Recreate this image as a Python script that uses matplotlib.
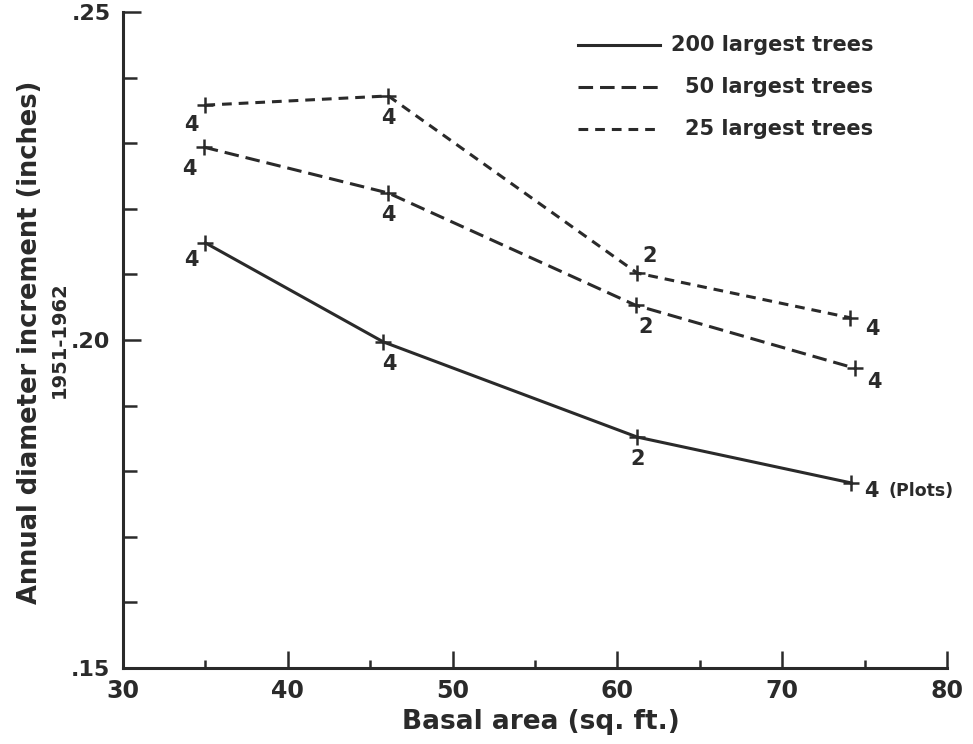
#!/usr/bin/env python3
"""Diameter increment vs basal area"""
import matplotlib
matplotlib.use('Agg')
import matplotlib.pyplot as plt
from matplotlib.ticker import MultipleLocator, FixedLocator
from matplotlib.lines import Line2D

plt.rcParams['font.family'] = ['DejaVu Sans']
plt.rcParams['font.weight'] = 'bold'
plt.rcParams['lines.scale_dashes'] = False

INK = '#2a2a2a'

# data
series_names = ['200 largest trees', '50 largest trees', '25 largest trees']
x_200 = [35.0, 45.8, 61.2, 74.2]
y_200 = [0.2148, 0.1997, 0.1852, 0.1782]
x_50 = [34.9, 46.1, 61.1, 74.4]
y_50 = [0.2294, 0.2224, 0.2053, 0.1957]
x_25 = [35.0, 46.1, 61.2, 74.1]
y_25 = [0.2358, 0.2372, 0.2102, 0.2034]
plots_200 = ['4', '4', '2', '4']
plots_50 = ['4', '4', '2', '4']
plots_25 = ['4', '4', '2', '4']
unit_note = '(Plots)'

# label offsets (points) for the plot-count annotations
offs_200 = [(-10, -12), (4, -16), (0, -16), (14, -6)]
offs_50 = [(-10, -16), (0, -16), (7, -16), (14, -10)]
offs_25 = [(-10, -14), (0, -16), (9, 12), (16, -8)]

fig = plt.figure(figsize=(9.73, 7.44), dpi=100)
ax = fig.add_axes([0.1264, 0.1022, 0.8469, 0.8817])

styles = [
    dict(linestyle='-'),
    dict(dashes=(10.5, 5)),
    dict(dashes=(7, 5)),
]
xs = [x_200, x_50, x_25]
ys = [y_200, y_50, y_25]
labs = [plots_200, plots_50, plots_25]
offs = [offs_200, offs_50, offs_25]

for xv, yv, st, lb, of in zip(xs, ys, styles, labs, offs):
    ax.plot(xv, yv, color=INK, lw=2.2, **st)
    ax.plot(xv, yv, ls='none', marker='+', ms=11, mew=1.8, color=INK)
    for xi, yi, t, o in zip(xv, yv, lb, of):
        ax.annotate(t, (xi, yi), xytext=o, textcoords='offset points',
                    ha='center', va='center',
                    fontsize=15, fontweight='bold', color=INK)

# "(Plots)" note after the last count of the 200-tree series
ax.annotate(unit_note, (x_200[-1], y_200[-1]), xytext=(offs_200[-1][0] + 13, offs_200[-1][1]),
            textcoords='offset points', ha='left', va='center',
            fontsize=12.5, fontweight='bold', color=INK)

ax.set_xlim(30, 80)
ax.set_ylim(0.15, 0.25)
ax.xaxis.set_major_locator(MultipleLocator(10))
ax.xaxis.set_minor_locator(MultipleLocator(5))
ax.yaxis.set_major_locator(FixedLocator([0.15, 0.20, 0.25]))
ax.yaxis.set_minor_locator(MultipleLocator(0.01))
ax.set_yticklabels(['.15', '.20', '.25'])

for s in ['top', 'right']:
    ax.spines[s].set_visible(False)
for s in ['left', 'bottom']:
    ax.spines[s].set_linewidth(2.2)
    ax.spines[s].set_color(INK)

ax.tick_params(axis='x', which='major', direction='in', length=12, width=1.8,
               colors=INK, labelsize=17, pad=8)
ax.tick_params(axis='x', which='minor', direction='in', length=6, width=1.8, colors=INK)
ax.tick_params(axis='y', which='major', direction='in', length=13, width=1.8,
               colors=INK, labelsize=16, pad=9)
ax.tick_params(axis='y', which='minor', direction='in', length=10, width=1.8, colors=INK)
for lab in ax.get_xticklabels() + ax.get_yticklabels():
    lab.set_fontweight('bold')

ax.set_xlabel('Basal area (sq. ft.)', fontsize=19, fontweight='bold', color=INK)
ax.xaxis.set_label_coords(0.507, -0.062)
fig.text(0.031, 0.54, 'Annual diameter increment (inches)', rotation=90,
         ha='center', va='center', fontsize=18.5, fontweight='bold', color=INK)
fig.text(0.061, 0.543, '1951-1962', rotation=90, ha='center', va='center',
         fontsize=14, fontweight='bold', color=INK)

# legend drawn by hand, text right-aligned as in the original
leg_y = [0.9497, 0.8857, 0.8216]
for name, st, yy in zip(series_names, styles, leg_y):
    ax.add_line(Line2D([0.552, 0.6517], [yy, yy], transform=ax.transAxes,
                       color=INK, lw=2.2, **st))
    ax.text(0.9106, yy, name, transform=ax.transAxes, ha='right', va='center',
            fontsize=15, fontweight='bold', color=INK)

fig.savefig('out.png', dpi=100)
